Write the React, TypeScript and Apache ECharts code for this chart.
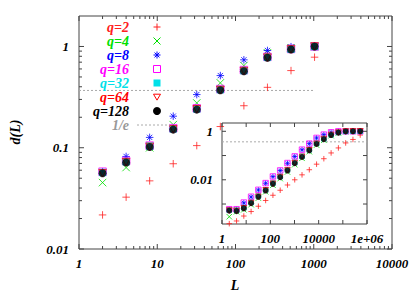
import React, { useEffect, useRef } from 'react';
import * as echarts from 'echarts';

// ---------- data ----------
const L_MAIN = [2, 4, 8, 16, 32, 64, 128, 256, 512, 1024];
const D_Q2 = [0.0217, 0.0325, 0.0471, 0.0695, 0.105, 0.162, 0.26, 0.395, 0.578, 0.784];
const D_Q4 = [0.0453, 0.0638, 0.1, 0.169, 0.277, 0.437, 0.648, 0.866, 0.97, 1.0];
const D_Q8 = [0.058, 0.082, 0.1265, 0.205, 0.335, 0.516, 0.738, 0.913, 0.995, 1.01];
const D_Q16 = [0.058, 0.074, 0.105, 0.156, 0.245, 0.38, 0.585, 0.79, 0.945, 1.0];
const D_Q32 = [0.057, 0.073, 0.104, 0.154, 0.242, 0.375, 0.578, 0.782, 0.94, 1.0];
const D_Q64 = [0.056, 0.072, 0.102, 0.152, 0.24, 0.371, 0.572, 0.776, 0.936, 1.0];
const D_Q128 = [0.056, 0.0716, 0.1016, 0.151, 0.238, 0.369, 0.569, 0.773, 0.934, 1.0];

const L_INSET = [2, 4, 8, 16, 32, 64, 128, 256, 512, 1024, 2048, 4096, 8192, 16384, 32768, 65536, 131072, 262144, 524288];
const I_Q2 = [1.55e-4, 2.0e-4, 3.2e-4, 4.9e-4, 8.1e-4, 1.4e-3, 2.3e-3, 3.7e-3, 6.1e-3, 0.01, 0.016, 0.026, 0.044, 0.074, 0.128, 0.206, 0.331, 0.46, 0.7];
const I_Q4 = [3.0e-4, 4.8e-4, 5.8e-4, 9.4e-4, 1.75e-3, 3.2e-3, 6.0e-3, 0.0112, 0.021, 0.042, 0.077, 0.145, 0.27, 0.43, 0.66, 0.85, 0.97, 1.0, 1.0];
const I_Q8 = [6.0e-4, 6.0e-4, 1.12e-3, 1.95e-3, 3.8e-3, 7.2e-3, 0.0135, 0.024, 0.048, 0.091, 0.173, 0.31, 0.53, 0.73, 0.91, 0.99, 1.0, 1.0, 1.0];
const I_Q16 = [6.1e-4, 6.1e-4, 1.15e-3, 2.0e-3, 3.85e-3, 7.3e-3, 0.0137, 0.0243, 0.049, 0.092, 0.175, 0.31, 0.533, 0.73, 0.91, 1.0, 1.0, 1.0, 1.0];
const I_Q32 = [5.7e-4, 5.6e-4, 7.2e-4, 1.17e-3, 2.15e-3, 3.9e-3, 7.4e-3, 0.0138, 0.026, 0.052, 0.094, 0.176, 0.32, 0.5, 0.73, 0.9, 0.99, 1.0, 1.0];
const I_Q64 = [5.4e-4, 5.2e-4, 6.7e-4, 1.1e-3, 2.0e-3, 3.7e-3, 6.9e-3, 0.013, 0.0245, 0.049, 0.089, 0.166, 0.305, 0.48, 0.71, 0.885, 0.99, 1.0, 1.0];
const I_Q128 = [5.3e-4, 5.1e-4, 6.6e-4, 1.08e-3, 1.98e-3, 3.6e-3, 6.8e-3, 0.0127, 0.024, 0.048, 0.087, 0.163, 0.3, 0.47, 0.7, 0.88, 0.99, 1.0, 1.0];

const Q_LABELS = ['q=2', 'q=4', 'q=8', 'q=16', 'q=32', 'q=64', 'q=128'];
const E_LABEL = '1/e';
const X_NAME = 'L';
const Y_NAME = 'd(L)';
const ONE_OVER_E = 0.3679;
const E_LINE_MAIN_X = [1, 1024];
const E_LINE_INSET_X = [1, 1e6];

const X_TICKS_MAIN = ['1', '10', '100', '1000', '10000'];
const Y_TICKS_MAIN = ['0.01', '0.1', '1'];
const X_TICKS_INSET = ['1', '100', '10000', '1e+06'];
const Y_TICKS_INSET = ['0.01', '1'];
const MINOR_MULT = [2, 3, 4, 5, 6, 7, 8, 9];

// ---------- styles ----------
const FONT = "'Liberation Serif', 'DejaVu Serif', serif";
const BORDER = '#444';
const PLUS = 'path://M0,5L10,5M5,0L5,10';
const CROSS = 'path://M0,0L10,10M10,0L0,10';
const STAR = 'path://M0,5L10,5M5,0L5,10M1.5,1.5L8.5,8.5M8.5,1.5L1.5,8.5';
const TRI_DOWN = 'path://M0,0L10,0L5,8.66Z';

const STYLES = [
  { color: '#ff2020', symbol: PLUS, open: true, kind: 'plus' },
  { color: '#00e000', symbol: CROSS, open: true, kind: 'cross' },
  { color: '#0000ff', symbol: STAR, open: true, kind: 'star' },
  { color: '#ff00ff', symbol: 'rect', open: true, kind: 'osq' },
  { color: '#00e0e8', symbol: 'rect', open: false, kind: 'sq' },
  { color: '#ff0000', symbol: TRI_DOWN, open: true, kind: 'tri' },
  { color: '#000000', symbol: 'circle', open: false, kind: 'circle' },
];
const MAIN_DATA = [D_Q2, D_Q4, D_Q8, D_Q16, D_Q32, D_Q64, D_Q128];
const INSET_DATA = [I_Q2, I_Q4, I_Q8, I_Q16, I_Q32, I_Q64, I_Q128];

const TICK_FONT = { fontFamily: FONT, fontStyle: 'italic', fontWeight: 'bold', fontSize: 13 };
const TEXT_FONT = { fontFamily: FONT, fontStyle: 'italic', fontWeight: 'bold', fontSize: 14 };

function tickValues(lo: number, hi: number, minor: boolean) {
  const out: number[][] = [];
  for (let e = lo; e <= hi; e++) {
    const base = Math.pow(10, e);
    out.push([base, 1]);
    if (minor && e < hi) MINOR_MULT.forEach((m) => out.push([m * base, 0]));
  }
  return out;
}

// inward, mirrored ticks drawn through the axes' scales
function tickSeries(gi: number, xs: number[][], ys: number[][], xMin: number, yMin: number, majorLen: number, minorLen: number, yMax: number) {
  const data: number[][] = [];
  xs.forEach(([v, maj]) => data.push([v, yMin, maj, 0]));
  ys.forEach(([v, maj]) => { if (v <= yMax) data.push([xMin, v, maj, 1]); });
  return {
    type: 'custom', xAxisIndex: gi, yAxisIndex: gi, silent: true, clip: false, z: 5, data,
    renderItem: (params: any, api: any) => {
      const kind = api.value(3);
      const len = api.value(2) === 1 ? majorLen : minorLen;
      const cs = params.coordSys;
      const p = api.coord([api.value(0), api.value(1)]);
      const style = { stroke: BORDER, lineWidth: 1 };
      if (kind === 0) {
        return {
          type: 'group',
          children: [
            { type: 'line', shape: { x1: p[0], y1: cs.y + cs.height, x2: p[0], y2: cs.y + cs.height - len }, style },
            { type: 'line', shape: { x1: p[0], y1: cs.y, x2: p[0], y2: cs.y + len }, style },
          ],
        };
      }
      return {
        type: 'group',
        children: [
          { type: 'line', shape: { x1: cs.x, y1: p[1], x2: cs.x + len, y2: p[1] }, style },
          { type: 'line', shape: { x1: cs.x + cs.width, y1: p[1], x2: cs.x + cs.width - len, y2: p[1] }, style },
        ],
      };
    },
  };
}

// tick labels drawn through the axes' scales
function labelSeries(gi: number, xLabels: string[], yLabels: string[], xMin: number, yMin: number, xMargin: number, yMargin: number) {
  const texts: string[] = [];
  const data: number[][] = [];
  xLabels.forEach((t) => { data.push([parseFloat(t), yMin, texts.length, 0]); texts.push(t); });
  yLabels.forEach((t) => { data.push([xMin, parseFloat(t), texts.length, 1]); texts.push(t); });
  return {
    type: 'custom', xAxisIndex: gi, yAxisIndex: gi, silent: true, clip: false, z: 6, data,
    renderItem: (params: any, api: any) => {
      const cs = params.coordSys;
      const p = api.coord([api.value(0), api.value(1)]);
      const text = texts[api.value(2)];
      if (api.value(3) === 0) {
        return {
          type: 'text', x: p[0], y: cs.y + cs.height + xMargin,
          style: { text, align: 'center', verticalAlign: 'top', fill: '#000', ...TICK_FONT },
        };
      }
      return {
        type: 'text', x: cs.x - yMargin, y: p[1],
        style: { text, align: 'right', verticalAlign: 'middle', fill: '#000', ...TICK_FONT },
      };
    },
  };
}

function legendSymbol(kind: string, cx: number, cy: number, color: string, s: number) {
  const h = s / 2;
  const st = { stroke: color, lineWidth: 1, fill: 'none' };
  const ln = (x1: number, y1: number, x2: number, y2: number) => ({ type: 'line', shape: { x1, y1, x2, y2 }, style: st });
  switch (kind) {
    case 'plus':
      return [ln(cx - h, cy, cx + h, cy), ln(cx, cy - h, cx, cy + h)];
    case 'cross':
      return [ln(cx - h, cy - h, cx + h, cy + h), ln(cx + h, cy - h, cx - h, cy + h)];
    case 'star':
      return [ln(cx - h, cy, cx + h, cy), ln(cx, cy - h, cx, cy + h), ln(cx - h * 0.7, cy - h * 0.7, cx + h * 0.7, cy + h * 0.7), ln(cx + h * 0.7, cy - h * 0.7, cx - h * 0.7, cy + h * 0.7)];
    case 'osq':
      return [{ type: 'rect', shape: { x: cx - h, y: cy - h, width: s, height: s }, style: st }];
    case 'sq':
      return [{ type: 'rect', shape: { x: cx - h, y: cy - h, width: s, height: s }, style: { fill: color } }];
    case 'tri':
      return [{ type: 'polygon', shape: { points: [[cx - h, cy - h * 0.8], [cx + h, cy - h * 0.8], [cx, cy + h * 0.9]] }, style: st }];
    default:
      return [{ type: 'circle', shape: { cx, cy, r: h + 0.5 }, style: { fill: color } }];
  }
}

function buildOption() {
  const axisCommon = { type: 'log', logBase: 10, axisLine: { show: false }, axisTick: { show: false }, splitLine: { show: false }, axisLabel: { show: false } };

  const series: any[] = [];
  series.push({
    type: 'line', xAxisIndex: 0, yAxisIndex: 0, silent: true, showSymbol: false, z: 1,
    data: E_LINE_MAIN_X.map((x) => [x, ONE_OVER_E]),
    lineStyle: { color: '#aaa', width: 1, type: [2, 2] },
  });
  series.push({
    type: 'line', xAxisIndex: 1, yAxisIndex: 1, silent: true, showSymbol: false, z: 1,
    data: E_LINE_INSET_X.map((x) => [x, ONE_OVER_E]),
    lineStyle: { color: '#aaa', width: 1, type: [2, 2] },
  });
  STYLES.forEach((st, i) => {
    const itemStyle = st.open
      ? { color: 'rgba(0,0,0,0)', borderColor: st.color, borderWidth: 1 }
      : { color: st.color, borderWidth: 0 };
    series.push({
      name: Q_LABELS[i], type: 'scatter', xAxisIndex: 0, yAxisIndex: 0, silent: true, z: 2 + i * 0.01,
      symbol: st.symbol, symbolSize: st.kind === 'circle' ? 8 : 7.5, itemStyle,
      data: L_MAIN.map((l, j) => [l, MAIN_DATA[i][j]]),
    });
    series.push({
      name: Q_LABELS[i] + ' inset', type: 'scatter', xAxisIndex: 1, yAxisIndex: 1, silent: true, z: 2 + i * 0.01,
      symbol: st.symbol, symbolSize: st.kind === 'circle' ? 6 : 5.5, itemStyle,
      data: L_INSET.map((l, j) => [l, INSET_DATA[i][j]]),
    });
  });
  series.push(tickSeries(0, tickValues(0, 4, true), tickValues(-2, 0, true), 1, 0.01, 5, 3, 2));
  series.push(tickSeries(1, tickValues(0, 6, false), tickValues(-3, 0, false), 1, 1.5e-4, 4, 2, 2.2));
  series.push(labelSeries(0, X_TICKS_MAIN, Y_TICKS_MAIN, 1, 0.01, 8, 10));
  series.push(labelSeries(1, X_TICKS_INSET, Y_TICKS_INSET, 1, 1.5e-4, 8, 9));

  const graphic: any[] = [];
  const TX = 129, SX = 157, TOP = 27, STEP = 14;
  STYLES.forEach((st, i) => {
    const y = TOP + i * STEP;
    graphic.push({
      type: 'text', x: TX, y, z: 10,
      style: { text: Q_LABELS[i], align: 'right', verticalAlign: 'middle', fill: st.color, ...TEXT_FONT },
    });
    legendSymbol(st.kind, SX, y, st.color, 7).forEach((g) => graphic.push({ ...g, z: 10 }));
  });
  const ey = TOP + 7 * STEP;
  graphic.push({
    type: 'text', x: TX, y: ey, z: 10,
    style: { text: E_LABEL, align: 'right', verticalAlign: 'middle', fill: '#999', ...TEXT_FONT },
  });
  graphic.push({ type: 'line', z: 10, shape: { x1: 137, y1: ey, x2: 170, y2: ey }, style: { stroke: '#aaa', lineWidth: 1, lineDash: [2, 2] } });
  graphic.push({
    type: 'text', x: 235, y: 285, z: 10,
    style: { text: X_NAME, align: 'center', verticalAlign: 'middle', fill: '#000', ...TEXT_FONT },
  });
  graphic.push({
    type: 'text', x: 15, y: 132, rotation: Math.PI / 2, z: 10,
    style: { text: Y_NAME, align: 'center', verticalAlign: 'middle', fill: '#000', ...TEXT_FONT },
  });

  return {
    animation: false,
    backgroundColor: '#fff',
    grid: [
      { left: 79, top: 16, width: 313, height: 233, show: true, borderColor: BORDER, borderWidth: 1, backgroundColor: 'transparent' },
      { left: 222, top: 123, width: 145, height: 101, show: true, borderColor: BORDER, borderWidth: 1, backgroundColor: '#fff' },
    ],
    xAxis: [
      { ...axisCommon, gridIndex: 0, min: 1, max: 10000 },
      { ...axisCommon, gridIndex: 1, min: 1, max: 1e6 },
    ],
    yAxis: [
      { ...axisCommon, gridIndex: 0, min: 0.01, max: 2 },
      { ...axisCommon, gridIndex: 1, min: 1.5e-4, max: 2.2 },
    ],
    graphic,
    series,
  };
}

export default function App() {
  const ref = useRef<HTMLDivElement>(null);
  useEffect(() => {
    if (!ref.current) return;
    const chart = echarts.init(ref.current, undefined, { renderer: 'svg' });
    chart.setOption(buildOption() as any);
    return () => chart.dispose();
  }, []);
  return <div ref={ref} style={{ position: 'absolute', left: 0, top: 0, width: 415, height: 291 }} />;
}
